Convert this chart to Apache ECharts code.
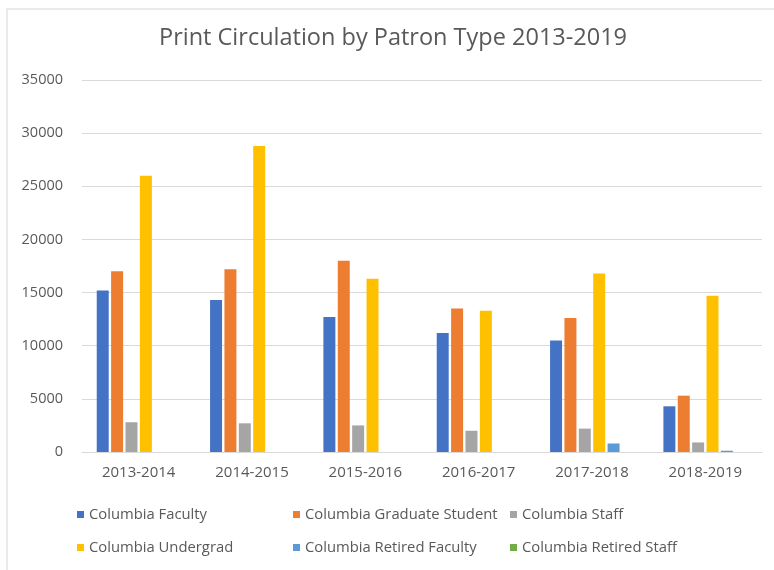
<!DOCTYPE html>
<html>
<head>
<meta charset="utf-8">
<script src="https://cdn.jsdelivr.net/npm/echarts@6/dist/echarts.min.js"></script>
<style>
  html, body { margin: 0; padding: 0; background: #ffffff; }
  #chart { width: 774px; height: 570px; }
</style>
</head>
<body>
<div id="chart"></div>
<script>
// Academic years
var years = ['2013-2014', '2014-2015', '2015-2016', '2016-2017', '2017-2018', '2018-2019'];

// Print circulation counts per patron type
var faculty        = [15200, 14300, 12700, 11200, 10500, 4300];
var gradStudent    = [17000, 17200, 18000, 13500, 12600, 5300];
var staff          = [2800, 2700, 2500, 2000, 2200, 900];
var undergrad      = [26000, 28800, 16300, 13300, 16800, 14700];
var retiredFaculty = [0, 0, 0, 0, 800, 120];
var retiredStaff   = [0, 0, 0, 0, 0, 0];

var seriesNames = [
  'Columbia Faculty', 'Columbia Graduate Student', 'Columbia Staff',
  'Columbia Undergrad', 'Columbia Retired Faculty', 'Columbia Retired Staff'
];
var seriesData = [faculty, gradStudent, staff, undergrad, retiredFaculty, retiredStaff];
var colors = ['#4472C4', '#ED7D31', '#A5A5A5', '#FFC000', '#5B9BD5', '#70AD47'];

var font = '"Open Sans", "Noto Sans", sans-serif';
var textColor = '#595959';

var chart = echarts.init(document.getElementById('chart'), null, { renderer: 'canvas' });

function legendColumn(left, names) {
  return {
    left: left,
    top: 506,
    padding: 0,
    orient: 'vertical',
    itemWidth: 7,
    itemHeight: 7,
    itemGap: 16,
    icon: 'rect',
    data: names,
    textStyle: { color: textColor, fontFamily: font, fontSize: 14.8, lineHeight: 17 }
  };
}

chart.setOption({
  animation: false,
  backgroundColor: '#ffffff',
  color: colors,
  graphic: [{
    type: 'rect',
    shape: { x: 7, y: 9, width: 820, height: 620 },
    style: { fill: 'none', stroke: '#e4e4e4', lineWidth: 1.5 },
    silent: true,
    z: -10
  }],
  title: {
    text: 'Print Circulation by Patron Type 2013-2019',
    left: 159,
    top: 26,
    padding: 0,
    textStyle: { color: textColor, fontFamily: font, fontSize: 23.5, fontWeight: 'normal' }
  },
  legend: [
    legendColumn(77, [seriesNames[0], seriesNames[3]]),
    legendColumn(293, [seriesNames[1], seriesNames[4]]),
    legendColumn(510, [seriesNames[2], seriesNames[5]])
  ],
  grid: { left: 82, right: 12, top: 80, bottom: 118, containLabel: false },
  xAxis: {
    type: 'category',
    data: years,
    axisTick: { show: false },
    axisLine: { lineStyle: { color: '#d9d9d9', width: 1 } },
    axisLabel: { color: textColor, fontFamily: font, fontSize: 15, margin: 13 }
  },
  yAxis: {
    type: 'value',
    min: 0,
    max: 35000,
    interval: 5000,
    axisLine: { show: false },
    axisTick: { show: false },
    splitLine: { lineStyle: { color: '#d9d9d9', width: 1 } },
    axisLabel: {
      color: textColor, fontFamily: font, fontSize: 14.5, margin: 19,
      formatter: function (v) { return String(v); }
    }
  },
  series: seriesNames.map(function (name, i) {
    return {
      name: name,
      type: 'bar',
      data: seriesData[i],
      barGap: '20%',
      barCategoryGap: '26%',
      itemStyle: { color: colors[i] }
    };
  })
});
</script>
</body>
</html>
